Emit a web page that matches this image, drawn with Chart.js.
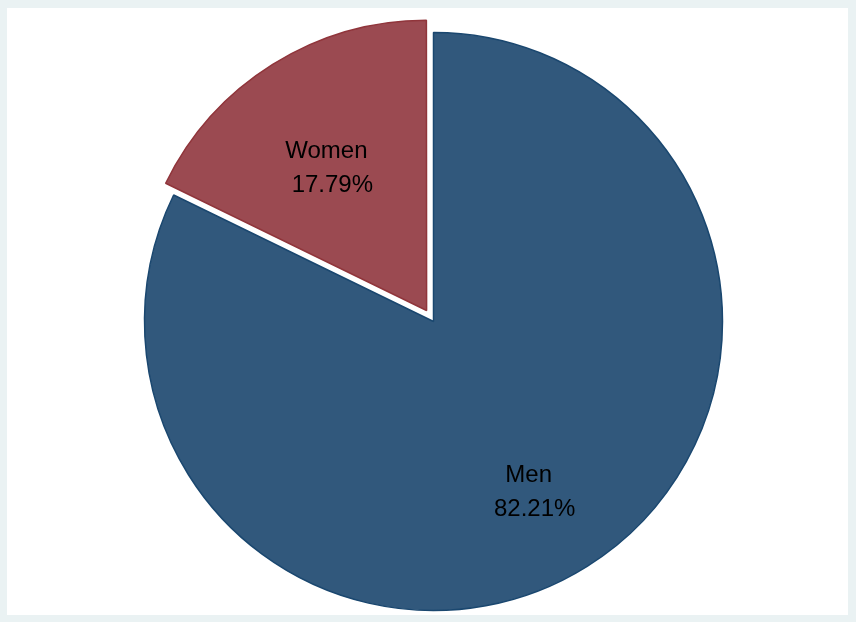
<!DOCTYPE html>
<html>
<head>
    <title></title>
    <meta charset="utf-8" />
    <style>
        body { margin: 0; background: #eaf2f3; }
        #panel { position: absolute; left: 7px; top: 8px; width: 841px; height: 607px; background: #fff; }
        #myChart { position: absolute; left: 0; top: 0; }
    </style>
    <script src="https://cdn.jsdelivr.net/npm/chart.js"></script>
</head>
<body>
    <div id="panel"></div>
    <canvas id="myChart" width="856" height="622"></canvas>
<script>
let labels = ['Men', 'Women'];
let shares = [82.21, 17.79];
let fills = ['#31587c', '#9b4a51'];
let lines = ['#1a476f', '#90353b'];
// chart.js v4 draws a quarter of this, so 52 -> 13px
let explode = [0, 52];

// slice labels, drawn at a fixed share of the radius like stata does
let sliceLabels = {
    id: 'sliceLabels',
    afterDatasetsDraw(chart) {
        let ctx = chart.ctx;
        let meta = chart.getDatasetMeta(0);
        ctx.save();
        ctx.font = '24px "Liberation Sans", Arial, sans-serif';
        ctx.fillStyle = '#000';
        ctx.textAlign = 'center';
        ctx.textBaseline = 'middle';
        meta.data.forEach((arc, i) => {
            let p = arc.getProps(['x', 'y', 'startAngle', 'endAngle', 'outerRadius'], true);
            let mid = (p.startAngle + p.endAngle) / 2;
            let cx = p.x + Math.cos(mid) * p.outerRadius * 0.66 - 3;
            let cy = p.y + Math.sin(mid) * p.outerRadius * 0.66 + 9;
            ctx.fillText(labels[i], cx - 3, cy - 17);
            ctx.fillText(shares[i].toFixed(2) + '%', cx + 3, cy + 17);
        });
        ctx.restore();
    }
};

let ctx = document.getElementById('myChart').getContext('2d');
let myChart = new Chart(ctx, {
    type: 'pie',
    data: {
        labels: labels,
        datasets: [{
            data: shares,
            backgroundColor: fills,
            borderColor: lines,
            borderWidth: 1.5,
            offset: explode
        }]
    },
    options: {
        responsive: false,
        animation: false,
        devicePixelRatio: 1,
        radius: 289,
        layout: { padding: { left: 11, right: 0, top: 21, bottom: 0 } },
        plugins: {
            legend: { display: false },
            tooltip: { enabled: false }
        }
    },
    plugins: [sliceLabels]
});
</script>
</body>
</html>
